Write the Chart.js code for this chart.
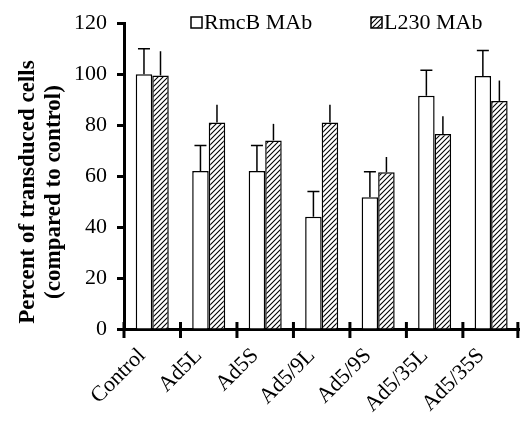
<!DOCTYPE html>
<html>
<head>
<meta charset="utf-8">
<script src="https://cdn.jsdelivr.net/npm/chart.js@4/dist/chart.umd.min.js"></script>
<style>
    html, body { margin: 0; padding: 0; background: #fff; }
    #transductionChart { display: block; }
</style>
</head>
<body>
<canvas id="transductionChart" width="524" height="426"></canvas>
<script>
var categories = ['Control', 'Ad5L', 'Ad5S', 'Ad5/9L', 'Ad5/9S', 'Ad5/35L', 'Ad5/35S'];
var rmcbValues = [100, 62, 62, 44, 51.7, 91.5, 99.3];
var rmcbErrors = [10, 10, 10, 10, 10, 10, 10];
var l230Values = [99.5, 81, 74, 81, 61.5, 76.5, 89.5];
var l230Errors = [9.5, 7, 6.5, 7, 6, 7, 8];
var yTicks = [0, 20, 40, 60, 80, 100, 120];
var yTitle = ['Percent of transduced cells', '(compared to control)'];

var serif = "'Liberation Serif', 'Times New Roman', serif";

function makeHatch() {
    var c = document.createElement('canvas');
    c.width = 5;
    c.height = 5;
    var g = c.getContext('2d');
    g.fillStyle = '#fff';
    g.fillRect(0, 0, 5, 5);
    g.strokeStyle = '#000';
    g.lineWidth = 1.1;
    g.beginPath();
    g.moveTo(-1, 6); g.lineTo(6, -1);
    g.moveTo(-1, 1); g.lineTo(1, -1);
    g.moveTo(4, 6); g.lineTo(6, 4);
    g.stroke();
    return g.createPattern(c, 'repeat');
}

var hatch = makeHatch();

// error bars, x ticks crossing the axis, legend and y title
var extras = {
    id: 'extras',
    afterDatasetsDraw: function (chart) {
        var ctx = chart.ctx;
        var y = chart.scales.y;
        var x = chart.scales.x;
        var errs = [rmcbErrors, l230Errors];
        ctx.save();
        ctx.strokeStyle = '#000';
        ctx.lineWidth = 1.5;
        chart.data.datasets.forEach(function (ds, di) {
            var meta = chart.getDatasetMeta(di);
            meta.data.forEach(function (bar, i) {
                var top = y.getPixelForValue(ds.data[i] + errs[di][i]);
                ctx.beginPath();
                ctx.moveTo(bar.x, bar.y);
                ctx.lineTo(bar.x, top);
                if (di === 0) {
                    ctx.moveTo(bar.x - 6, top);
                    ctx.lineTo(bar.x + 6, top);
                }
                ctx.stroke();
            });
        });

        // category boundary ticks on the x axis
        ctx.lineWidth = 3;
        var step = (x.right - x.left) / categories.length;
        for (var k = 0; k <= categories.length; k++) {
            var px = Math.min(x.left + k * step, x.right - 1.5);
            ctx.beginPath();
            ctx.moveTo(px, x.top - 7);
            ctx.lineTo(px, x.top + 9);
            ctx.stroke();
        }

        // legend
        ctx.font = '22px ' + serif;
        ctx.fillStyle = '#000';
        ctx.textBaseline = 'middle';
        var legendX = [191, 371];
        chart.data.datasets.forEach(function (ds, di) {
            var lx = legendX[di];
            ctx.fillStyle = ds.backgroundColor;
            ctx.fillRect(lx, 17, 11, 11);
            ctx.lineWidth = 1.5;
            ctx.strokeRect(lx, 17, 11, 11);
            ctx.fillStyle = '#000';
            ctx.fillText(ds.label, lx + 13, 23);
        });

        // y axis title
        ctx.font = 'bold 23px ' + serif;
        ctx.textAlign = 'center';
        ctx.translate(0, 192);
        ctx.rotate(-Math.PI / 2);
        ctx.fillText(yTitle[0], 0, 28);
        ctx.fillText(yTitle[1], 0, 54);
        ctx.restore();
    }
};

function drawTransductionChart() {
    var ctx = document.getElementById('transductionChart').getContext('2d');
    new Chart(ctx, {
        type: 'bar',
        data: {
            labels: categories,
            datasets: [{
                label: 'RmcB MAb',
                data: rmcbValues,
                backgroundColor: '#fff',
                borderColor: '#000',
                borderWidth: 1.5
            }, {
                label: 'L230 MAb',
                data: l230Values,
                backgroundColor: hatch,
                borderColor: '#000',
                borderWidth: 1.5
            }]
        },
        options: {
            responsive: false,
            animation: false,
            barPercentage: 1,
            categoryPercentage: 0.585,
            layout: {
                padding: { left: 0, right: 3, top: 22, bottom: 0 }
            },
            scales: {
                x: {
                    grid: { display: false, drawTicks: false },
                    border: { color: '#000', width: 3 },
                    ticks: {
                        color: '#000',
                        font: { family: serif, size: 22 },
                        minRotation: 45,
                        maxRotation: 45,
                        padding: 14,
                        labelOffset: -10
                    },
                    afterFit: function (scale) { scale.height = 97; }
                },
                y: {
                    min: 0,
                    max: 120,
                    afterBuildTicks: function (scale) {
                        scale.ticks = yTicks.map(function (v) { return { value: v }; });
                    },
                    grid: {
                        drawOnChartArea: false,
                        color: '#000',
                        tickLength: 7,
                        tickWidth: 3
                    },
                    border: { color: '#000', width: 3 },
                    ticks: {
                        color: '#000',
                        font: { family: serif, size: 22 },
                        padding: 10
                    },
                    afterFit: function (scale) { scale.width = 124; }
                }
            },
            plugins: {
                legend: { display: false },
                tooltip: { enabled: false }
            }
        },
        plugins: [extras]
    });
}

drawTransductionChart();
</script>
</body>
</html>
